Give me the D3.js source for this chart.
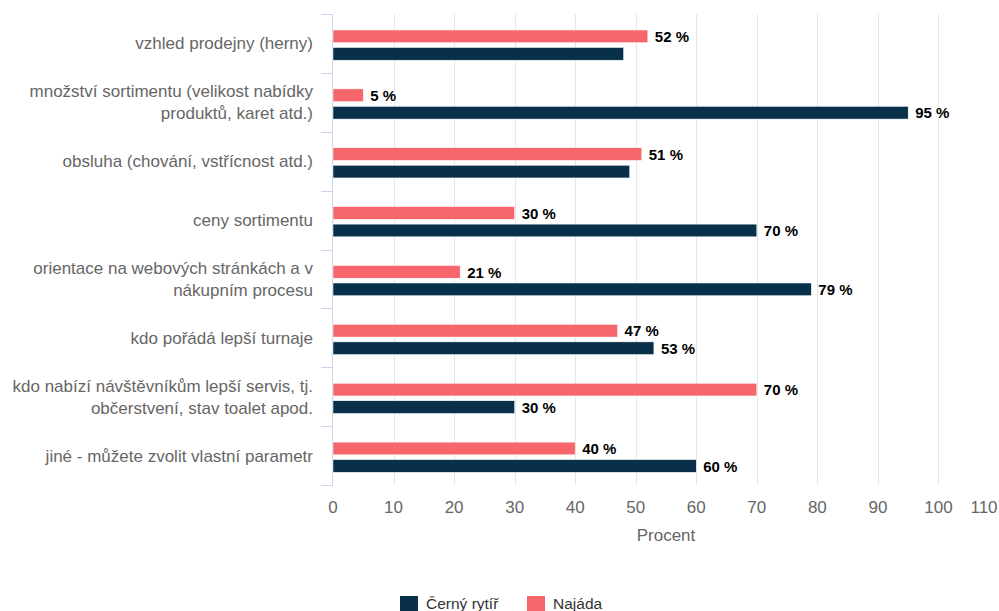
<!DOCTYPE html>
<html>
<head>
<meta charset="utf-8">
<script src="https://cdn.jsdelivr.net/npm/d3@7/dist/d3.min.js"></script>
<style>
  html, body { margin: 0; padding: 0; background: #fff; }
  svg { display: block; font-family: "Liberation Sans", Arial, sans-serif; }
</style>
</head>
<body>
<svg id="chart" width="999" height="611"></svg>
<script>
// Categories (each entry is a list of lines for the axis label)
const categories = [
  ["vzhled prodejny (herny)"],
  ["množství sortimentu (velikost nabídky", "produktů, karet atd.)"],
  ["obsluha (chování, vstřícnost atd.)"],
  ["ceny sortimentu"],
  ["orientace na webových stránkách a v", "nákupním procesu"],
  ["kdo pořádá lepší turnaje"],
  ["kdo nabízí návštěvníkům lepší servis, tj.", "občerstvení, stav toalet apod."],
  ["jiné - můžete zvolit vlastní parametr"]
];

const najada = [52, 5, 51, 30, 21, 47, 70, 40];
const cernyRytir = [48, 95, 49, 70, 79, 53, 30, 60];
// Value labels for the dark series are not printed on these rows
const cernyHiddenLabels = [0, 2];

const xTicks = [0, 10, 20, 30, 40, 50, 60, 70, 80, 90, 100, 110];
const seriesNames = ["Černý rytíř", "Najáda"];
const colors = { cerny: "#08304a", najada: "#f7666a" };

const svg = d3.select("#chart");
const plotLeft = 333, plotRight = 999, plotTop = 14, plotBottom = 485;

const x = d3.scaleLinear().domain([0, 110]).range([plotLeft, plotRight]);
const y = d3.scaleBand().domain(d3.range(categories.length)).range([plotTop, plotBottom]);

// Vertical grid lines
svg.append("g")
  .selectAll("line")
  .data(xTicks.filter(t => t > 0 && t < 110))
  .join("line")
  .attr("x1", d => Math.round(x(d)) + 0.5)
  .attr("x2", d => Math.round(x(d)) + 0.5)
  .attr("y1", plotTop).attr("y2", plotBottom)
  .attr("stroke", "#e6e6e6").attr("stroke-width", 1);

// Category axis (left) with tick marks between categories
const catAxis = svg.append("g");
catAxis.append("line")
  .attr("x1", plotLeft - 0.5).attr("x2", plotLeft - 0.5)
  .attr("y1", plotTop).attr("y2", plotBottom)
  .attr("stroke", "#ccd6eb");
catAxis.selectAll("line.tick")
  .data(d3.range(categories.length + 1))
  .join("line")
  .attr("class", "tick")
  .attr("x1", plotLeft - 12).attr("x2", plotLeft)
  .attr("y1", d => Math.round(plotTop + d * y.step()) + 0.5)
  .attr("y2", d => Math.round(plotTop + d * y.step()) + 0.5)
  .attr("stroke", "#ccd6eb");

// Category labels
const lineH = 22;
catAxis.selectAll("text")
  .data(categories)
  .join("text")
  .attr("text-anchor", "end")
  .attr("fill", "#666")
  .attr("font-size", 17)
  .each(function(lines, i) {
    const cy = y(i) + y.bandwidth() / 2;
    const startY = cy - (lines.length - 1) * lineH / 2 + 6;
    d3.select(this).selectAll("tspan")
      .data(lines)
      .join("tspan")
      .attr("x", 313)
      .attr("y", (d, j) => startY + j * lineH)
      .text(d => d);
  });

// Bars
const barH = 12.7;
const rows = categories.map((c, i) => i);

svg.append("g").selectAll("rect")
  .data(rows)
  .join("rect")
  .attr("x", plotLeft)
  .attr("y", i => y(i) + 16)
  .attr("width", i => x(najada[i]) - plotLeft)
  .attr("height", barH)
  .attr("fill", colors.najada)
  .attr("stroke", "#fff").attr("stroke-width", 0.5);

svg.append("g").selectAll("rect")
  .data(rows)
  .join("rect")
  .attr("x", plotLeft)
  .attr("y", i => y(i) + 33.5)
  .attr("width", i => x(cernyRytir[i]) - plotLeft)
  .attr("height", barH)
  .attr("fill", colors.cerny)
  .attr("stroke", "#fff").attr("stroke-width", 0.5);

// Value labels
function valueLabels(values, dy, hidden) {
  const g = svg.append("g")
    .attr("font-size", 15)
    .attr("font-weight", "bold");
  const d = rows.filter(i => !hidden.includes(i));
  g.selectAll("text.outline")
    .data(d)
    .join("text")
    .attr("class", "outline")
    .attr("x", i => x(values[i]) + 7)
    .attr("y", i => y(i) + dy)
    .attr("fill", "none")
    .attr("stroke", "#fff").attr("stroke-width", 2).attr("stroke-linejoin", "round")
    .text(i => values[i] + " %");
  g.selectAll("text.val")
    .data(d)
    .join("text")
    .attr("class", "val")
    .attr("x", i => x(values[i]) + 7)
    .attr("y", i => y(i) + dy)
    .attr("fill", "#000")
    .text(i => values[i] + " %");
}
valueLabels(najada, 28, []);
valueLabels(cernyRytir, 45.5, cernyHiddenLabels);

// Value axis
const xAxisG = svg.append("g");
xAxisG.selectAll("text")
  .data(xTicks)
  .join("text")
  .attr("x", d => d === 110 ? x(d) - 15 : x(d))
  .attr("y", 513)
  .attr("text-anchor", "middle")
  .attr("fill", "#666")
  .attr("font-size", 17)
  .text(d => d);

svg.append("text")
  .attr("x", (plotLeft + plotRight) / 2)
  .attr("y", 541)
  .attr("text-anchor", "middle")
  .attr("fill", "#666")
  .attr("font-size", 17)
  .text("Procent");

// Legend
const legend = svg.append("g").attr("font-size", 15.5).attr("fill", "#333");
const legendItems = [
  { name: seriesNames[0], color: colors.cerny, x: 400 },
  { name: seriesNames[1], color: colors.najada, x: 527 }
];
legend.selectAll("rect")
  .data(legendItems)
  .join("rect")
  .attr("x", d => d.x).attr("y", 596)
  .attr("width", 18).attr("height", 15)
  .attr("fill", d => d.color);
legend.selectAll("text")
  .data(legendItems)
  .join("text")
  .attr("x", d => d.x + 26).attr("y", 609)
  .text(d => d.name);
</script>
</body>
</html>
